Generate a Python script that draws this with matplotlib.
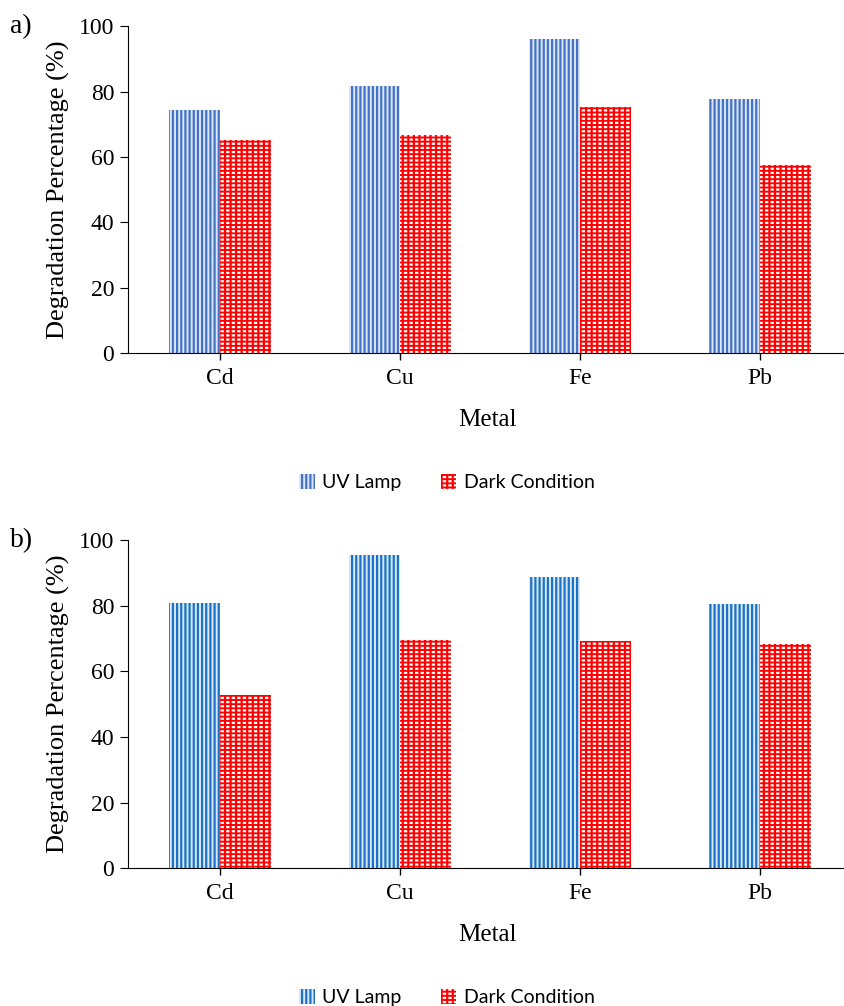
import matplotlib.pyplot as plt
import numpy as np

plt.rcParams['hatch.linewidth'] = 1.6

metals = ['Cd', 'Cu', 'Fe', 'Pb']
uv_a = [74.3, 81.7, 96.0, 77.8]
dark_a = [65.3, 66.8, 75.4, 57.5]
uv_b = [81.0, 95.4, 88.8, 80.5]
dark_b = [52.8, 69.6, 69.2, 68.3]

serif = 'Liberation Serif'
sans = 'Lato'

fig = plt.figure(figsize=(8.44, 10.06), dpi=100)


def panel(rect, uv, dark, uv_color, label):
    ax = fig.add_axes(rect)
    x = np.arange(len(metals))
    w = 0.283
    uv_bars = ax.bar(x - w / 2, uv, w, color='#dce8f7', edgecolor=uv_color,
                     hatch='||||', linewidth=0)
    # red fill with white dashes: white rows broken by red columns
    d1 = ax.bar(x + w / 2, dark, w, color='#ff0000', edgecolor='white',
                hatch='----', linewidth=0)
    d2 = ax.bar(x + w / 2, dark, w, color='none', edgecolor='#ff0000',
                hatch='|||', linewidth=0)
    ax.set_xlim(-0.51, 3.48)
    ax.set_ylim(0, 100)
    ax.set_yticks(range(0, 101, 20))
    ax.set_xticks(x)
    ax.set_xticklabels(metals)
    ax.tick_params(axis='x', length=5, width=1, pad=6)
    ax.tick_params(axis='y', length=6, direction='out', pad=4)
    for t in ax.get_xticklabels() + ax.get_yticklabels():
        t.set_fontfamily(serif)
        t.set_fontsize(17)
    for s in ['top', 'right']:
        ax.spines[s].set_visible(False)
    ax.set_xlabel('Metal', fontfamily=serif, fontsize=18, labelpad=14)
    ax.set_ylabel('Degradation Percentage (%)', fontfamily=serif, fontsize=19)
    ax.yaxis.set_label_coords(-0.081, 0.5)
    ax.text(-0.165, 1.0, label, transform=ax.transAxes, fontfamily=serif,
            fontsize=20, va='center')
    ax.legend([uv_bars, (d1, d2)], ['UV Lamp', 'Dark Condition'],
              loc='center', bbox_to_anchor=(0.444, -0.395), ncol=2,
              frameon=False, prop={'family': sans, 'size': 14},
              handlelength=0.8, handleheight=0.8, columnspacing=2.0,
              handletextpad=0.4)
    return ax


panel([0.1517, 0.649, 0.851, 0.325], uv_a, dark_a, '#4472c4', 'a)')
panel([0.1517, 0.137, 0.851, 0.326], uv_b, dark_b, '#1a73c4', 'b)')

fig.savefig('out.png', dpi=100)
